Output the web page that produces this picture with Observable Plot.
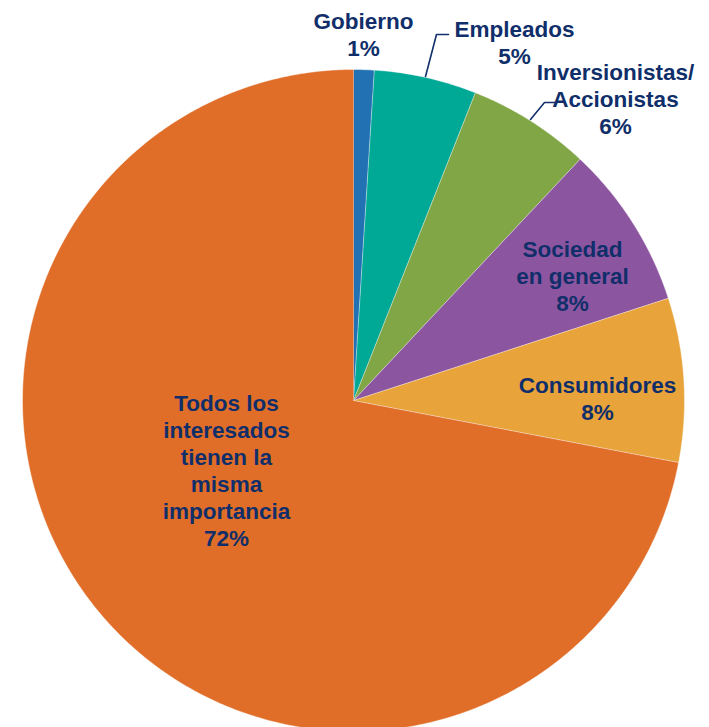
<!DOCTYPE html>
<html><head><meta charset="utf-8">
<script src="https://cdn.jsdelivr.net/npm/d3@7"></script>
<script src="https://cdn.jsdelivr.net/npm/@observablehq/plot@0.6"></script>
<style>html,body{margin:0;padding:0;background:#fff;overflow:hidden}</style>
</head><body><div id="chart"></div>
<script>
// Data
const categories = ["Gobierno", "Empleados", "Inversionistas/\nAccionistas", "Sociedad\nen general", "Consumidores", "Todos los\ninteresados\ntienen la\nmisma\nimportancia"];
const values = [1, 5, 6, 8, 8, 72];
const colors = ["#2271B3", "#00A896", "#80A646", "#8C55A0", "#E8A33A", "#E06E29"];

// Layout (label anchor positions in pie-radius units, y up)
const R = 331, CX = 353, CY = 400;
const toU = (px, py) => [(px - CX) / R, (CY - py) / R];
const labelPx = [[363, 33], [514, 41], [615, 98], [572, 275], [597, 397], [226, 469]];
const leaderPx = [
  [[425, 76], [436, 34], [448, 34]],
  [[530, 119], [544, 102], [557, 102]]
];

const total = d3.sum(values);
const slices = [];
let acc = 0;
values.forEach((v, i) => {
  const a0 = acc / total * 2 * Math.PI;
  acc += v;
  const a1 = acc / total * 2 * Math.PI;
  const n = Math.max(4, Math.ceil((a1 - a0) / (Math.PI / 360)));
  slices.push({cat: categories[i], x: 0, y: 0, k: -1});
  for (let j = 0; j <= n; j++) {
    const t = a0 + (a1 - a0) * j / n;
    slices.push({cat: categories[i], x: Math.sin(t), y: Math.cos(t), k: j});
  }
});

const labels = categories.map((c, i) => {
  const [x, y] = toU(...labelPx[i]);
  return {x, y, text: c + "\n" + values[i] + "%"};
});
const leaders = leaderPx.flatMap((pts, i) => pts.map(p => { const [x, y] = toU(...p); return {x, y, g: i}; }));

const W = 709, H = 727;
const chart = Plot.plot({
  width: W, height: H,
  margin: 0,
  style: {fontFamily: "'Liberation Sans', Arial, sans-serif", background: "#fff"},
  x: {domain: [-CX / R, (W - CX) / R], range: [0, W], axis: null},
  y: {domain: [-(H - CY) / R, CY / R], range: [H, 0], axis: null},
  color: {domain: categories, range: colors},
  marks: [
    Plot.line(slices, {x: "x", y: "y", z: "cat", fill: "cat", stroke: "white", strokeWidth: 0.6, strokeOpacity: 0.7, curve: "linear"}),
    Plot.line(leaders, {x: "x", y: "y", z: "g", stroke: "#12306B", strokeWidth: 1.6}),
    Plot.text(labels, {x: "x", y: "y", text: "text", fill: "#102E69", fontSize: 22.5, fontWeight: "bold", lineHeight: 1.2, lineAnchor: "middle", textAnchor: "middle", letterSpacing: 0.8})
  ]
});
document.getElementById("chart").append(chart);
</script>
</body></html>
